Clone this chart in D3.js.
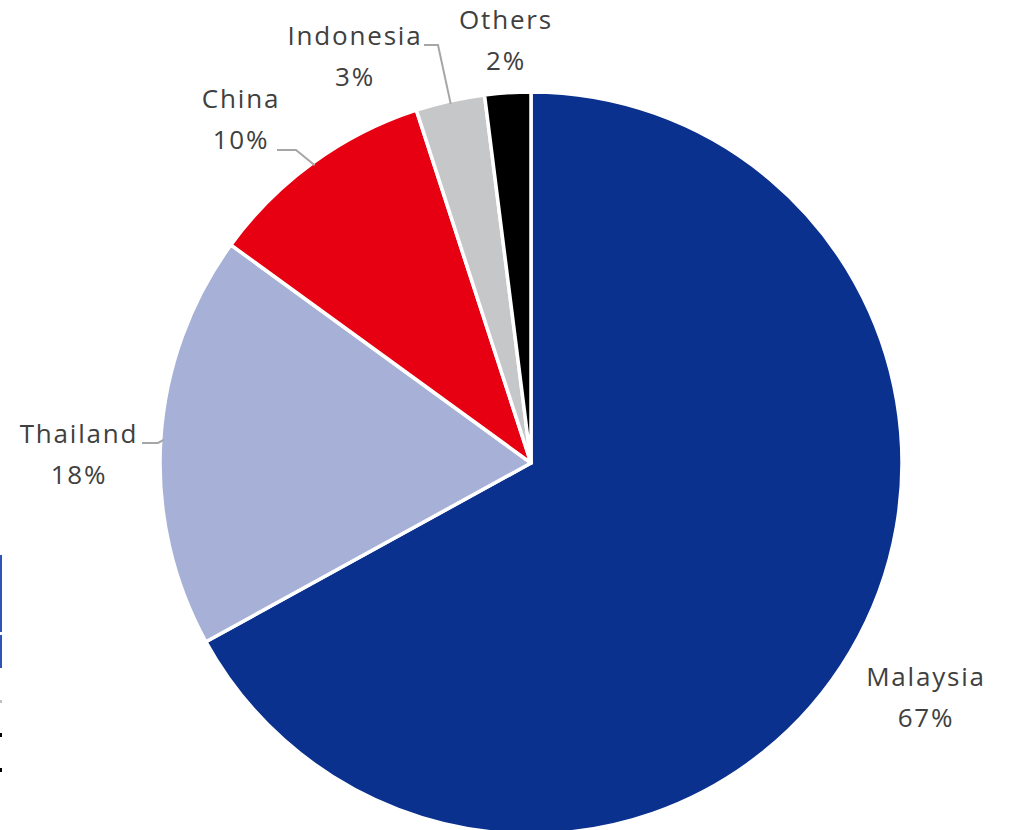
<!DOCTYPE html>
<html>
  <head>
    <meta charset="utf-8">
    <title>Pie</title>
    <script src="https://d3js.org/d3.v7.min.js"></script>
    <style>
      body { margin: 0; background: #fff; }
      text { font-family: "Open Sans", "Liberation Sans", sans-serif; fill: #404040; font-size: 26px; letter-spacing: 1.8px; }
    </style>
  </head>
  <body>
    <script>
      var countries = ["Malaysia", "Thailand", "China", "Indonesia", "Others"];
      var shares = [67, 18, 10, 3, 2];
      var colors = ["#0b318f", "#a7b1d7", "#e60012", "#c6c7c9", "#000000"];

      var width = 1009, height = 830;
      var cx = 531, cy = 463, radius = 371;

      // label placement (centre of the two-line label) and leader elbow
      var labelPos = {
        "Malaysia":  { x: 926, y: 677, leader: null },
        "Thailand":  { x: 79,  y: 434, leader: [[142, 443], [158, 443]] },
        "China":     { x: 241, y: 99,  leader: [[277, 150], [296, 150]] },
        "Indonesia": { x: 355, y: 36,  leader: [[424, 45], [438, 45]] },
        "Others":    { x: 506, y: 20,  leader: null }
      };

      var svg = d3.select("body").append("svg").attr("width", width).attr("height", height);

      // cut-off legend remnants on the left edge
      svg.append("rect").attr("x", 0).attr("y", 555).attr("width", 2).attr("height", 77).attr("fill", "#2f54b4");
      svg.append("rect").attr("x", 0).attr("y", 635).attr("width", 2).attr("height", 33).attr("fill", "#2f54b4");
      svg.append("rect").attr("x", 0).attr("y", 700).attr("width", 2).attr("height", 3).attr("fill", "#c0c0c0");
      svg.append("rect").attr("x", 0).attr("y", 733).attr("width", 2).attr("height", 4).attr("fill", "#000");
      svg.append("rect").attr("x", 0).attr("y", 768).attr("width", 2).attr("height", 4).attr("fill", "#000");

      var data = countries.map(function(c, i) { return { name: c, value: shares[i], color: colors[i] }; });

      var pie = d3.pie().sort(null).value(function(d) { return d.value; });
      var arc = d3.arc().innerRadius(0).outerRadius(radius);
      var arcs = pie(data);

      var g = svg.append("g").attr("transform", "translate(" + cx + "," + cy + ")");

      g.selectAll("path.slice")
        .data(arcs)
        .enter()
        .append("path")
        .attr("class", "slice")
        .attr("d", arc)
        .attr("fill", function(d) { return d.data.color; })
        .attr("stroke", "#fff")
        .attr("stroke-width", 3.5)
        .attr("stroke-linejoin", "round");

      // leader lines: elbow -> point just inside the slice edge
      arcs.forEach(function(a) {
        var lp = labelPos[a.data.name];
        if (!lp.leader) return;
        var mid = (a.startAngle + a.endAngle) / 2;
        var ex = cx + Math.sin(mid) * (radius - 3);
        var ey = cy - Math.cos(mid) * (radius - 3);
        var pts = lp.leader.concat([[ex, ey]]);
        svg.append("path")
          .attr("d", d3.line()(pts))
          .attr("fill", "none")
          .attr("stroke", "#a6a6a6")
          .attr("stroke-width", 2);
      });

      arcs.forEach(function(a) {
        var lp = labelPos[a.data.name];
        var t = svg.append("text").attr("text-anchor", "middle");
        t.append("tspan").attr("x", lp.x).attr("y", lp.y).attr("dy", "0.35em").text(a.data.name);
        t.append("tspan").attr("x", lp.x).attr("y", lp.y + 41).attr("dy", "0.35em").text(a.data.value + "%");
      });
    </script>
  </body>
</html>
